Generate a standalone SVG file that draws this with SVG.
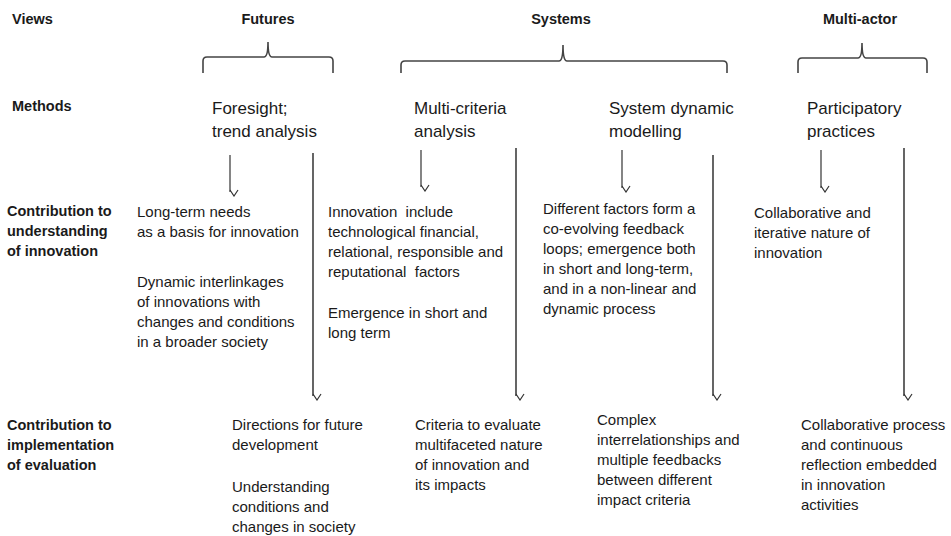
<svg xmlns="http://www.w3.org/2000/svg" width="951" height="536" viewBox="0 0 951 536">
  <style>
    text { font-family: "Liberation Sans", Arial, sans-serif; fill: #1a1a1a; }
    .hd { font-size: 14.5px; font-weight: bold; }
    .mt { font-size: 17px; }
    .bd { font-size: 15px; }
    .brace { fill: none; stroke: #444; stroke-width: 1.6; }
    .arr { fill: none; stroke: #333; stroke-width: 1.2; marker-end: url(#tip); }
    .long { fill: none; stroke: #555; stroke-width: 1.8; marker-end: url(#tip); }
  </style>
  <defs>
    <marker id="tip" viewBox="0 0 10 10" refX="5" refY="9" markerWidth="10" markerHeight="10" markerUnits="userSpaceOnUse" orient="auto-start-reverse">
      <path d="M1,3 L5,9 L9,3" transform="rotate(-90 5 5)" fill="none" stroke="#333" stroke-width="1.2"/>
    </marker>
  </defs>
  <rect width="951" height="536" fill="#ffffff"/>

  <!-- row labels -->
  <g id="row-labels">
    <text class="hd" x="12" y="24">Views</text>
    <text class="hd" x="12" y="111">Methods</text>
    <text class="hd" x="7" y="216">Contribution to</text>
    <text class="hd" x="7" y="236">understanding</text>
    <text class="hd" x="7" y="256">of innovation</text>
    <text class="hd" x="7" y="430">Contribution to</text>
    <text class="hd" x="7" y="450">implementation</text>
    <text class="hd" x="7" y="470">of evaluation</text>
  </g>

  <!-- views with braces -->
  <g id="view-futures">
    <text class="hd" x="268" y="24" text-anchor="middle">Futures</text>
    <path class="brace" d="M203,73 V61 Q203,57 207,57 H264 Q268,57 268,42 Q268,57 272,57 H329 Q333,57 333,61 V73"/>
  </g>
  <g id="view-systems">
    <text class="hd" x="561" y="24" text-anchor="middle">Systems</text>
    <path class="brace" d="M401,73 V65 Q401,61 405,61 H559 Q563,61 563,45 Q563,61 567,61 H723 Q727,61 727,65 V73"/>
  </g>
  <g id="view-multiactor">
    <text class="hd" x="860" y="24" text-anchor="middle">Multi-actor</text>
    <path class="brace" d="M798,73 V62 Q798,58 802,58 H858 Q862,58 862,43 Q862,58 866,58 H923 Q927,58 927,62 V73"/>
  </g>

  <!-- methods -->
  <g id="method-foresight">
    <text class="mt" x="212" y="114">Foresight;</text>
    <text class="mt" x="212" y="137">trend analysis</text>
  </g>
  <g id="method-mca">
    <text class="mt" x="414" y="114">Multi-criteria</text>
    <text class="mt" x="414" y="137">analysis</text>
  </g>
  <g id="method-sdm">
    <text class="mt" x="609" y="114">System dynamic</text>
    <text class="mt" x="609" y="137">modelling</text>
  </g>
  <g id="method-participatory">
    <text class="mt" x="807" y="114">Participatory</text>
    <text class="mt" x="807" y="137">practices</text>
  </g>

  <!-- understanding of innovation -->
  <g id="understanding-foresight">
    <text class="bd" x="137" y="217">Long-term needs</text>
    <text class="bd" x="137" y="237">as a basis for innovation</text>
    <text class="bd" x="137" y="287">Dynamic interlinkages</text>
    <text class="bd" x="137" y="307">of innovations with</text>
    <text class="bd" x="137" y="327">changes and conditions</text>
    <text class="bd" x="137" y="347">in a broader society</text>
  </g>
  <g id="understanding-mca">
    <text class="bd" x="328" y="217" xml:space="preserve">Innovation  include</text>
    <text class="bd" x="328" y="237">technological financial,</text>
    <text class="bd" x="328" y="257">relational, responsible and</text>
    <text class="bd" x="328" y="277" xml:space="preserve">reputational  factors</text>
    <text class="bd" x="328" y="318">Emergence in short and</text>
    <text class="bd" x="328" y="338">long term</text>
  </g>
  <g id="understanding-sdm">
    <text class="bd" x="543" y="214">Different factors form a</text>
    <text class="bd" x="543" y="234">co-evolving feedback</text>
    <text class="bd" x="543" y="254">loops; emergence both</text>
    <text class="bd" x="543" y="274">in short and long-term,</text>
    <text class="bd" x="543" y="294">and in a non-linear and</text>
    <text class="bd" x="543" y="314">dynamic process</text>
  </g>
  <g id="understanding-participatory">
    <text class="bd" x="754" y="218">Collaborative and</text>
    <text class="bd" x="754" y="238">iterative nature of</text>
    <text class="bd" x="754" y="258">innovation</text>
  </g>

  <!-- implementation of evaluation -->
  <g id="evaluation-foresight">
    <text class="bd" x="232" y="430">Directions for future</text>
    <text class="bd" x="232" y="450">development</text>
    <text class="bd" x="232" y="492">Understanding</text>
    <text class="bd" x="232" y="512">conditions and</text>
    <text class="bd" x="232" y="532">changes in society</text>
  </g>
  <g id="evaluation-mca">
    <text class="bd" x="415" y="430">Criteria to evaluate</text>
    <text class="bd" x="415" y="450">multifaceted nature</text>
    <text class="bd" x="415" y="470">of innovation and</text>
    <text class="bd" x="415" y="490">its impacts</text>
  </g>
  <g id="evaluation-sdm">
    <text class="bd" x="597" y="425">Complex</text>
    <text class="bd" x="597" y="445">interrelationships and</text>
    <text class="bd" x="597" y="465">multiple feedbacks</text>
    <text class="bd" x="597" y="485">between different</text>
    <text class="bd" x="597" y="505">impact criteria</text>
  </g>
  <g id="evaluation-participatory">
    <text class="bd" x="801" y="430">Collaborative process</text>
    <text class="bd" x="801" y="450">and continuous</text>
    <text class="bd" x="801" y="470">reflection embedded</text>
    <text class="bd" x="801" y="490">in innovation</text>
    <text class="bd" x="801" y="510">activities</text>
  </g>

  <!-- connectors -->
  <g id="connectors">
    <path class="arr" d="M230,155 V192"/>
    <path class="arr" d="M421,150 V187"/>
    <path class="arr" d="M622,150 V188"/>
    <path class="arr" d="M821,150 V188"/>
    <path class="long" d="M313,153 V396"/>
    <path class="long" d="M516,148 V396"/>
    <path class="long" d="M713,155 V396"/>
    <path class="long" d="M904,148 V396"/>
  </g>
</svg>
